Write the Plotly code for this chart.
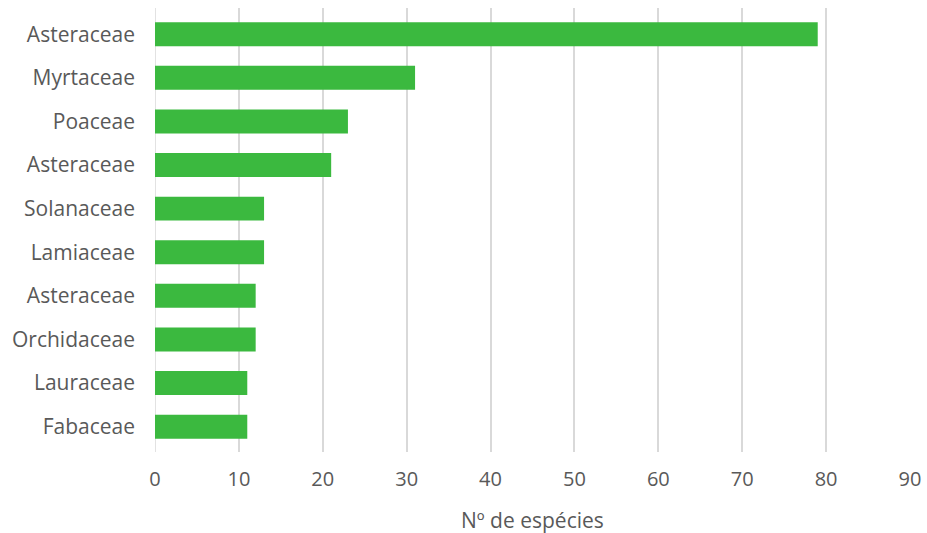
import plotly.graph_objects as go

families = ["Asteraceae", "Myrtaceae", "Poaceae", "Asteraceae", "Solanaceae",
            "Lamiaceae", "Asteraceae", "Orchidaceae", "Lauraceae", "Fabaceae"]
species = [79, 31, 23, 21, 13, 13, 12, 12, 11, 11]
x_ticks = [0, 10, 20, 30, 40, 50, 60, 70, 80, 90]
x_title = "Nº de espécies"

positions = list(range(len(families)))

fig = go.Figure(go.Bar(
    x=species, y=positions, orientation="h",
    marker=dict(color="#3BB93F", line=dict(width=0)),
    width=0.55,
))

fig.update_layout(
    width=927, height=533,
    margin=dict(l=155, r=17, t=8, b=81),
    paper_bgcolor="white", plot_bgcolor="white",
    font=dict(family="Open Sans, sans-serif", color="#595959", size=21),
    showlegend=False,
)
fig.update_xaxes(
    range=[0, 90], tickvals=x_ticks, ticktext=[str(t) for t in x_ticks],
    showgrid=True, gridcolor="#D9D9D9", gridwidth=1.5,
    zeroline=False, showline=False, ticks="",
    tickfont=dict(size=20, color="#595959"),
    ticklabelstandoff=13, automargin=False,
)
fig.update_yaxes(
    tickvals=positions, ticktext=families, range=[9.58, -0.6],
    showgrid=False, zeroline=False, showline=False, ticks="",
    tickfont=dict(size=21, color="#595959"),
    ticklabelstandoff=19, automargin=False,
)
fig.add_shape(type="line", xref="x", yref="paper", x0=0, x1=0, y0=0, y1=1,
              line=dict(color="#D9D9D9", width=1.5), layer="below")
fig.add_annotation(text=x_title, xref="paper", yref="paper", x=0.5, y=-0.153,
                   xanchor="center", yanchor="middle", showarrow=False,
                   font=dict(size=21, color="#595959"))

fig.write_html(
    "out.html",
    config={"displayModeBar": False},
    post_script="document.body.style.margin='0';document.body.style.overflow='hidden';",
)
